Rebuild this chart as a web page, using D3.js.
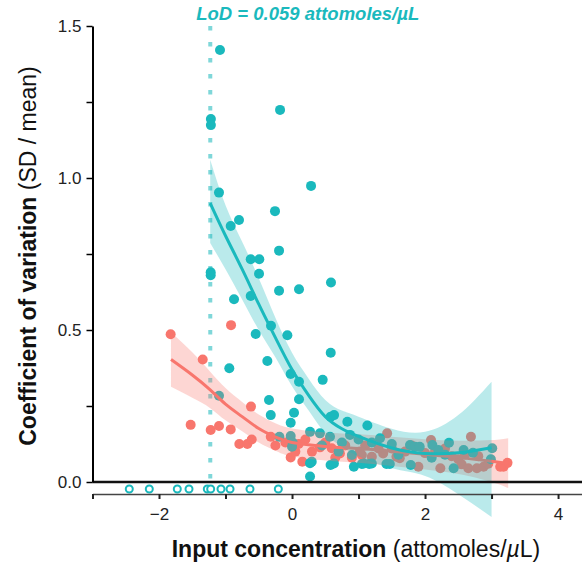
<!DOCTYPE html>
<html lang="en">
<head>
<meta charset="UTF-8">
<script src="https://cdn.jsdelivr.net/npm/d3@7"></script>
<title>CV vs input concentration</title>
<style>
  body { margin: 0; background: white; }
  svg { display: block; font-family: Helvetica, Arial, "Liberation Sans", sans-serif; }
</style>
</head>
<body>
<script>
// ---------------- data ----------------
// x = log10 input concentration, y = coefficient of variation
const tealPoints = [
  [-1.083, 1.421], [-1.22, 1.194], [-1.22, 1.174], [-0.18, 1.224], [-1.098, 0.952],
  [0.286, 0.974], [-0.256, 0.891], [-0.922, 0.842], [-0.797, 0.862], [-0.195, 0.761],
  [-0.621, 0.733], [-0.492, 0.733], [-0.496, 0.685], [-1.223, 0.69], [-1.223, 0.68],
  [-0.195, 0.629], [0.105, 0.634], [0.586, 0.656], [-0.872, 0.601], [-0.621, 0.612],
  [-0.316, 0.514], [-0.546, 0.487], [-0.07, 0.483], [0.582, 0.425], [-0.371, 0.398],
  [-0.943, 0.374], [-0.02, 0.355], [0.105, 0.33], [0.461, 0.336], [0.105, 0.272],
  [-1.098, 0.284], [-0.346, 0.27], [-0.32, 0.22], [0.03, 0.228], [-0.02, 0.195],
  [-0.19, 0.149], [-0.02, 0.151], [0.01, 0.13], [0.0, 0.116], [0.271, 0.165],
  [0.271, 0.062], [0.271, 0.018], [0.582, 0.215], [0.632, 0.22], [0.832, 0.198],
  [1.133, 0.186], [0.42, 0.16], [0.571, 0.149], [0.75, 0.13], [0.872, 0.155],
  [1.0, 0.14], [1.323, 0.144], [1.2, 0.13], [1.5, 0.125], [1.774, 0.122],
  [1.85, 0.116], [1.92, 0.116], [2.11, 0.122], [2.36, 0.129], [2.2, 0.105],
  [2.72, 0.096], [3.01, 0.111], [2.99, 0.075], [2.58, 0.105], [0.296, 0.067],
  [0.58, 0.056], [0.63, 0.061], [0.93, 0.05], [1.05, 0.059], [1.08, 0.061],
  [1.16, 0.059], [1.2, 0.061], [1.42, 0.059], [1.47, 0.059], [1.785, 0.056],
  [2.43, 0.045], [0.9, 0.089], [2.1, 0.08], [2.3, 0.09], [1.6, 0.09],
  [0.45, 0.12], [0.7, 0.1]
];

const salmonPoints = [
  [-1.825, 0.486], [-0.917, 0.516], [-1.343, 0.403], [-0.617, 0.248], [-1.524, 0.188],
  [-1.223, 0.171], [-1.098, 0.184], [-0.922, 0.173], [-0.792, 0.125], [-0.672, 0.125],
  [-0.606, 0.14], [-0.32, 0.149], [-0.02, 0.081], [0.155, 0.067], [-0.1, 0.13],
  [0.1, 0.125], [0.2, 0.14], [0.42, 0.114], [0.597, 0.111], [0.72, 0.094],
  [1.05, 0.089], [1.2, 0.083], [1.37, 0.094], [1.57, 0.083], [0.9, 0.08],
  [1.43, 0.16], [2.09, 0.138], [2.69, 0.149], [1.02, 0.1], [1.62, 0.078],
  [1.9, 0.05], [2.23, 0.045], [2.5, 0.075], [2.55, 0.058], [2.65, 0.045],
  [2.78, 0.045], [2.88, 0.05], [3.18, 0.05], [3.24, 0.063], [3.13, 0.05],
  [0.3, 0.1], [0.5, 0.13], [0.8, 0.12], [1.1, 0.12], [1.3, 0.11],
  [1.7, 0.1], [1.8, 0.12], [2.0, 0.095], [2.15, 0.1], [2.4, 0.085],
  [2.8, 0.085], [2.95, 0.06], [0.05, 0.1], [-0.25, 0.12], [0.65, 0.08],
  [1.5, 0.11], [2.3, 0.11], [2.6, 0.09]
];

// samples with no CV (drawn as open circles under the zero line)
const undetectedX = [-2.447, -2.146, -1.725, -1.549, -1.274, -1.223, -1.068, -0.932, -0.632, -0.206];

// smoothed fits with confidence band
const tealFitX  = [-1.23, -1, -0.75, -0.5, -0.25, 0, 0.25, 0.5, 0.75, 1, 1.5, 2, 2.5, 3];
const tealFitY  = [0.917, 0.81, 0.70, 0.585, 0.475, 0.37, 0.285, 0.215, 0.175, 0.15, 0.112, 0.094, 0.096, 0.113];
const tealFitLo = [0.786, 0.70, 0.60, 0.50, 0.41, 0.315, 0.235, 0.16, 0.115, 0.085, 0.045, 0.02, -0.04, -0.115];
const tealFitHi = [1.06, 0.91, 0.79, 0.67, 0.54, 0.425, 0.34, 0.27, 0.235, 0.215, 0.175, 0.165, 0.22, 0.33];

const salmonFitX  = [-1.82, -1.5, -1.23, -1, -0.75, -0.5, -0.25, 0, 0.5, 1, 1.5, 2, 2.5, 3, 3.25];
const salmonFitY  = [0.403, 0.352, 0.303, 0.256, 0.215, 0.176, 0.148, 0.13, 0.117, 0.11, 0.101, 0.091, 0.081, 0.068, 0.061];
const salmonFitLo = [0.313, 0.277, 0.243, 0.203, 0.167, 0.13, 0.103, 0.084, 0.071, 0.063, 0.053, 0.041, 0.026, 0.0, -0.02];
const salmonFitHi = [0.493, 0.427, 0.363, 0.309, 0.263, 0.222, 0.193, 0.176, 0.163, 0.157, 0.149, 0.141, 0.136, 0.138, 0.144];

const lod = 0.059; // attomoles/uL

const xTicks = [-3, -2, -1, 0, 1, 2, 3, 4];
const yTicks = [0, 0.25, 0.5, 0.75, 1, 1.25, 1.5];

// ---------------- setup ----------------
const width = 582, height = 562;
const teal = "#1ab9bd", salmon = "#f8766d";

const x = d3.scaleLinear().domain([-3, 4.36]).range([92.5, 582]);
const y = d3.scaleLinear().domain([0, 1.5]).range([482, 26]);

const svg = d3.select("body").append("svg")
  .attr("width", width)
  .attr("height", height);

// LoD dotted line
const lodX = Math.log10(lod);
svg.append("line")
  .attr("x1", x(lodX)).attr("x2", x(lodX))
  .attr("y1", y(1.5)).attr("y2", y(0))
  .attr("stroke", "#7fd7d9")
  .attr("stroke-width", 4)
  .attr("stroke-dasharray", "4.5,11.5");

svg.append("text")
  .attr("x", x(lodX) - 14)
  .attr("y", 20)
  .attr("fill", teal)
  .attr("font-size", 18.5)
  .attr("font-weight", "bold")
  .attr("font-style", "italic")
  .text("LoD = " + lod + " attomoles/\u00b5L");

// points
svg.append("g").selectAll("circle")
  .data(salmonPoints)
  .join("circle")
  .attr("cx", d => x(d[0]))
  .attr("cy", d => y(d[1]))
  .attr("r", 5)
  .attr("fill", salmon);

svg.append("g").selectAll("circle")
  .data(tealPoints)
  .join("circle")
  .attr("cx", d => x(d[0]))
  .attr("cy", d => y(d[1]))
  .attr("r", 5)
  .attr("fill", teal);

// bands + fitted lines
function drawFit(xs, ys, lo, hi, color) {
  const rows = xs.map((v, i) => ({ x: v, y: ys[i], lo: lo[i], hi: hi[i] }));
  svg.append("path")
    .datum(rows)
    .attr("fill", color)
    .attr("fill-opacity", 0.3)
    .attr("d", d3.area()
      .curve(d3.curveNatural)
      .x(d => x(d.x))
      .y0(d => y(d.lo))
      .y1(d => y(d.hi)));
  svg.append("path")
    .datum(rows)
    .attr("fill", "none")
    .attr("stroke", color)
    .attr("stroke-width", 3)
    .attr("d", d3.line()
      .curve(d3.curveNatural)
      .x(d => x(d.x))
      .y(d => y(d.y)));
}
drawFit(salmonFitX, salmonFitY, salmonFitLo, salmonFitHi, salmon);
drawFit(tealFitX, tealFitY, tealFitLo, tealFitHi, teal);

// zero line
svg.append("line")
  .attr("x1", x(-3)).attr("x2", width)
  .attr("y1", y(0)).attr("y2", y(0))
  .attr("stroke", "#111")
  .attr("stroke-width", 2.5);

// undetected samples
svg.append("g").selectAll("circle")
  .data(undetectedX)
  .join("circle")
  .attr("cx", d => x(d))
  .attr("cy", y(-0.023))
  .attr("r", 3.5)
  .attr("fill", "white")
  .attr("stroke", teal)
  .attr("stroke-width", 2);

// ---------------- axes ----------------
const yAxis = svg.append("g")
  .attr("transform", `translate(${x(-3)},0)`)
  .call(d3.axisLeft(y)
    .tickValues(yTicks)
    .tickSize(6)
    .tickSizeOuter(0)
    .tickFormat(d => (d * 2) % 1 === 0 ? d3.format(".1f")(d) : ""));
yAxis.select(".domain").attr("stroke", "#000").attr("stroke-width", 2);
yAxis.selectAll(".tick line").attr("stroke", "#000").attr("stroke-width", 1.5);
yAxis.selectAll(".tick text")
  .attr("x", -11)
  .attr("font-size", 17)
  .attr("font-family", "Helvetica, Arial, 'Liberation Sans', sans-serif")
  .attr("fill", "#222");

const xAxis = svg.append("g")
  .attr("transform", `translate(0,494)`)
  .call(d3.axisBottom(x)
    .tickValues(xTicks)
    .tickSize(5)
    .tickSizeOuter(0)
    .tickFormat(d => d % 2 === 0 ? d3.format("")(d) : ""));
xAxis.select(".domain").attr("stroke", "#444").attr("stroke-width", 1.5);
xAxis.selectAll(".tick line").attr("stroke", "#222").attr("stroke-width", 2);
xAxis.selectAll(".tick text")
  .attr("y", 14)
  .attr("font-size", 17)
  .attr("font-family", "Helvetica, Arial, 'Liberation Sans', sans-serif")
  .attr("fill", "#222");

// axis titles
const xTitle = svg.append("text")
  .attr("x", 356)
  .attr("y", 557)
  .attr("text-anchor", "middle")
  .attr("font-size", 23)
  .attr("fill", "#111");
xTitle.append("tspan").attr("font-weight", "bold").text("Input concentration");
xTitle.append("tspan").text(" (attomoles/");
xTitle.append("tspan").attr("font-style", "italic").text("\u00b5");
xTitle.append("tspan").text("L)");

const yTitle = svg.append("text")
  .attr("transform", "translate(36,256) rotate(-90)")
  .attr("text-anchor", "middle")
  .attr("font-size", 23)
  .attr("fill", "#111");
yTitle.append("tspan").attr("font-weight", "bold").text("Coefficient of variation");
yTitle.append("tspan").text(" (SD / mean)");
</script>
</body>
</html>
